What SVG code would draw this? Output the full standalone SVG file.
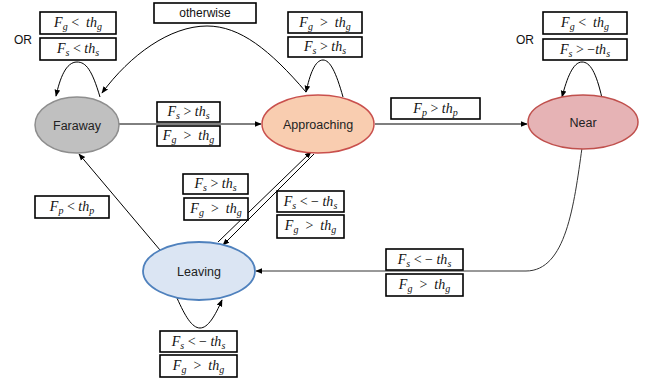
<svg xmlns="http://www.w3.org/2000/svg" width="651" height="384" viewBox="0 0 651 384">
<defs>
<marker id="ah" viewBox="0 0 10 10" refX="9" refY="5" markerWidth="7" markerHeight="7" orient="auto-start-reverse" markerUnits="userSpaceOnUse">
<path d="M0,1 L10,5 L0,9 z" fill="#000"/>
</marker>
</defs>
<style>
.node text{font-family:"Liberation Sans",Arial,sans-serif;font-size:12.5px;fill:#222;text-anchor:middle}
.c{fill:none;stroke:#000;stroke-width:1}
.box{fill:#fff;stroke:#000;stroke-width:1.6}
.m{font-family:"Liberation Serif","Times New Roman",serif;font-style:italic;font-size:14px;fill:#111;text-anchor:middle;white-space:pre}
.m .u{font-style:normal}
.m .s{font-size:10px}
.t{font-family:"Liberation Sans",Arial,sans-serif;font-size:12px;fill:#111}
</style>
<rect width="651" height="384" fill="#fff"/>

<g id="connectors">
<path class="c" d="M118,124 L261,124" marker-end="url(#ah)"/>
<path class="c" d="M375,124 L527,124" style="stroke:#555;stroke-width:1.4" marker-end="url(#ah)"/>
<path class="c" d="M582,148 C574,205 566,271 526,271 L256,271" style="stroke:#333" marker-end="url(#ah)"/>
<path class="c" d="M160,250 L79,154" marker-end="url(#ah)"/>
<path class="c" d="M218,242 L311,152" marker-end="url(#ah)"/>
<path class="c" d="M314,154 L223,245" marker-end="url(#ah)"/>
<path class="c" d="M100,97 C92,70 86,62 77,62 C66,62 60,78 56,96" marker-end="url(#ah)"/>
<path class="c" d="M306,92 C270,50 240,26 207,26 C170,26 130,55 102,93" marker-end="url(#ah)"/>
<path class="c" d="M343,97 C336,72 330,60 323,60 C315,60 310,74 306,92" marker-end="url(#ah)"/>
<path class="c" d="M602,98 C596,72 590,62 582,62 C573,62 567,78 562,97" marker-end="url(#ah)"/>
<path class="c" d="M177,298 C185,316 192,328 200,328 C208,328 215,316 222,300" marker-end="url(#ah)"/>
</g>

<g id="labels">
<rect class="box" x="40" y="12" width="76" height="22"/>
<text class="m" x="78" y="27">F<tspan class="s" dy="3">g</tspan><tspan dy="-3" class="u"> &lt;  </tspan>th<tspan class="s" dy="3">g</tspan></text>
<rect class="box" x="40" y="38" width="76" height="22"/>
<text class="m" x="78" y="53">F<tspan class="s" dy="3">s</tspan><tspan dy="-3" class="u"> &lt; </tspan>th<tspan class="s" dy="3">s</tspan></text>
<text class="t" x="14" y="44">OR</text>

<rect class="box" x="154" y="3" width="102" height="20"/>
<text class="t" x="205" y="17" text-anchor="middle">otherwise</text>

<rect class="box" x="157" y="102" width="63" height="20"/>
<text class="m" x="188.5" y="116">F<tspan class="s" dy="3">s</tspan><tspan dy="-3" class="u"> &gt; </tspan>th<tspan class="s" dy="3">s</tspan></text>
<rect class="box" x="157" y="126" width="63" height="20"/>
<text class="m" x="188.5" y="140">F<tspan class="s" dy="3">g</tspan><tspan dy="-3" class="u">  &gt;  </tspan>th<tspan class="s" dy="3">g</tspan></text>

<rect class="box" x="288" y="12" width="74" height="21"/>
<text class="m" x="325" y="27">F<tspan class="s" dy="3">g</tspan><tspan dy="-3" class="u">  &gt;  </tspan>th<tspan class="s" dy="3">g</tspan></text>
<rect class="box" x="288" y="37" width="74" height="20"/>
<text class="m" x="325" y="51">F<tspan class="s" dy="3">s</tspan><tspan dy="-3" class="u"> &gt; </tspan>th<tspan class="s" dy="3">s</tspan></text>

<rect class="box" x="391" y="98" width="89" height="21"/>
<text class="m" x="435.5" y="113">F<tspan class="s" dy="3">p</tspan><tspan dy="-3" class="u"> &gt; </tspan>th<tspan class="s" dy="3">p</tspan></text>

<rect class="box" x="543" y="12" width="84" height="22"/>
<text class="m" x="585" y="27">F<tspan class="s" dy="3">g</tspan><tspan dy="-3" class="u"> &lt;  </tspan>th<tspan class="s" dy="3">g</tspan></text>
<rect class="box" x="543" y="39" width="84" height="21"/>
<text class="m" x="585" y="54">F<tspan class="s" dy="3">s</tspan><tspan dy="-3" class="u"> &gt; −</tspan>th<tspan class="s" dy="3">s</tspan></text>
<text class="t" x="516" y="44">OR</text>

<rect class="box" x="35" y="196" width="74" height="22"/>
<text class="m" x="72" y="211">F<tspan class="s" dy="3">p</tspan><tspan dy="-3" class="u"> &lt; </tspan>th<tspan class="s" dy="3">p</tspan></text>

<rect class="box" x="183" y="174" width="65" height="20"/>
<text class="m" x="215.5" y="188">F<tspan class="s" dy="3">s</tspan><tspan dy="-3" class="u"> &gt; </tspan>th<tspan class="s" dy="3">s</tspan></text>
<rect class="box" x="184" y="198" width="64" height="22"/>
<text class="m" x="216" y="213">F<tspan class="s" dy="3">g</tspan><tspan dy="-3" class="u">  &gt;  </tspan>th<tspan class="s" dy="3">g</tspan></text>

<rect class="box" x="277" y="191" width="67" height="21"/>
<text class="m" x="310.5" y="206">F<tspan class="s" dy="3">s</tspan><tspan dy="-3" class="u"> &lt; − </tspan>th<tspan class="s" dy="3">s</tspan></text>
<rect class="box" x="277" y="215" width="67" height="23"/>
<text class="m" x="310.5" y="230">F<tspan class="s" dy="3">g</tspan><tspan dy="-3" class="u">  &gt;  </tspan>th<tspan class="s" dy="3">g</tspan></text>

<rect class="box" x="386" y="249" width="77" height="21"/>
<text class="m" x="424.5" y="264">F<tspan class="s" dy="3">s</tspan><tspan dy="-3" class="u"> &lt; − </tspan>th<tspan class="s" dy="3">s</tspan></text>
<rect class="box" x="386" y="274" width="77" height="22"/>
<text class="m" x="424.5" y="289">F<tspan class="s" dy="3">g</tspan><tspan dy="-3" class="u">  &gt;  </tspan>th<tspan class="s" dy="3">g</tspan></text>

<rect class="box" x="160" y="331" width="77" height="21"/>
<text class="m" x="198.5" y="346">F<tspan class="s" dy="3">s</tspan><tspan dy="-3" class="u"> &lt; − </tspan>th<tspan class="s" dy="3">s</tspan></text>
<rect class="box" x="160" y="355" width="77" height="22"/>
<text class="m" x="198.5" y="370">F<tspan class="s" dy="3">g</tspan><tspan dy="-3" class="u">  &gt;  </tspan>th<tspan class="s" dy="3">g</tspan></text>
</g>

<g id="faraway" class="node">
<ellipse cx="77" cy="125" rx="42" ry="28" fill="#c0c0c0" stroke="#8e8e8e" stroke-width="1.5"/>
<text x="77" y="130">Faraway</text>
</g>
<g id="approaching" class="node">
<ellipse cx="318" cy="124" rx="56" ry="29" fill="#f9cdb0" stroke="#c9504d" stroke-width="1.5"/>
<text x="318" y="129">Approaching</text>
</g>
<g id="near" class="node">
<ellipse cx="583" cy="122" rx="55" ry="27" fill="#e6b3b5" stroke="#c0504d" stroke-width="1.5"/>
<text x="583" y="127">Near</text>
</g>
<g id="leaving" class="node">
<ellipse cx="199" cy="271" rx="56" ry="29" fill="#dbe5f3" stroke="#4f81bd" stroke-width="1.8"/>
<text x="199" y="276">Leaving</text>
</g>
</svg>
